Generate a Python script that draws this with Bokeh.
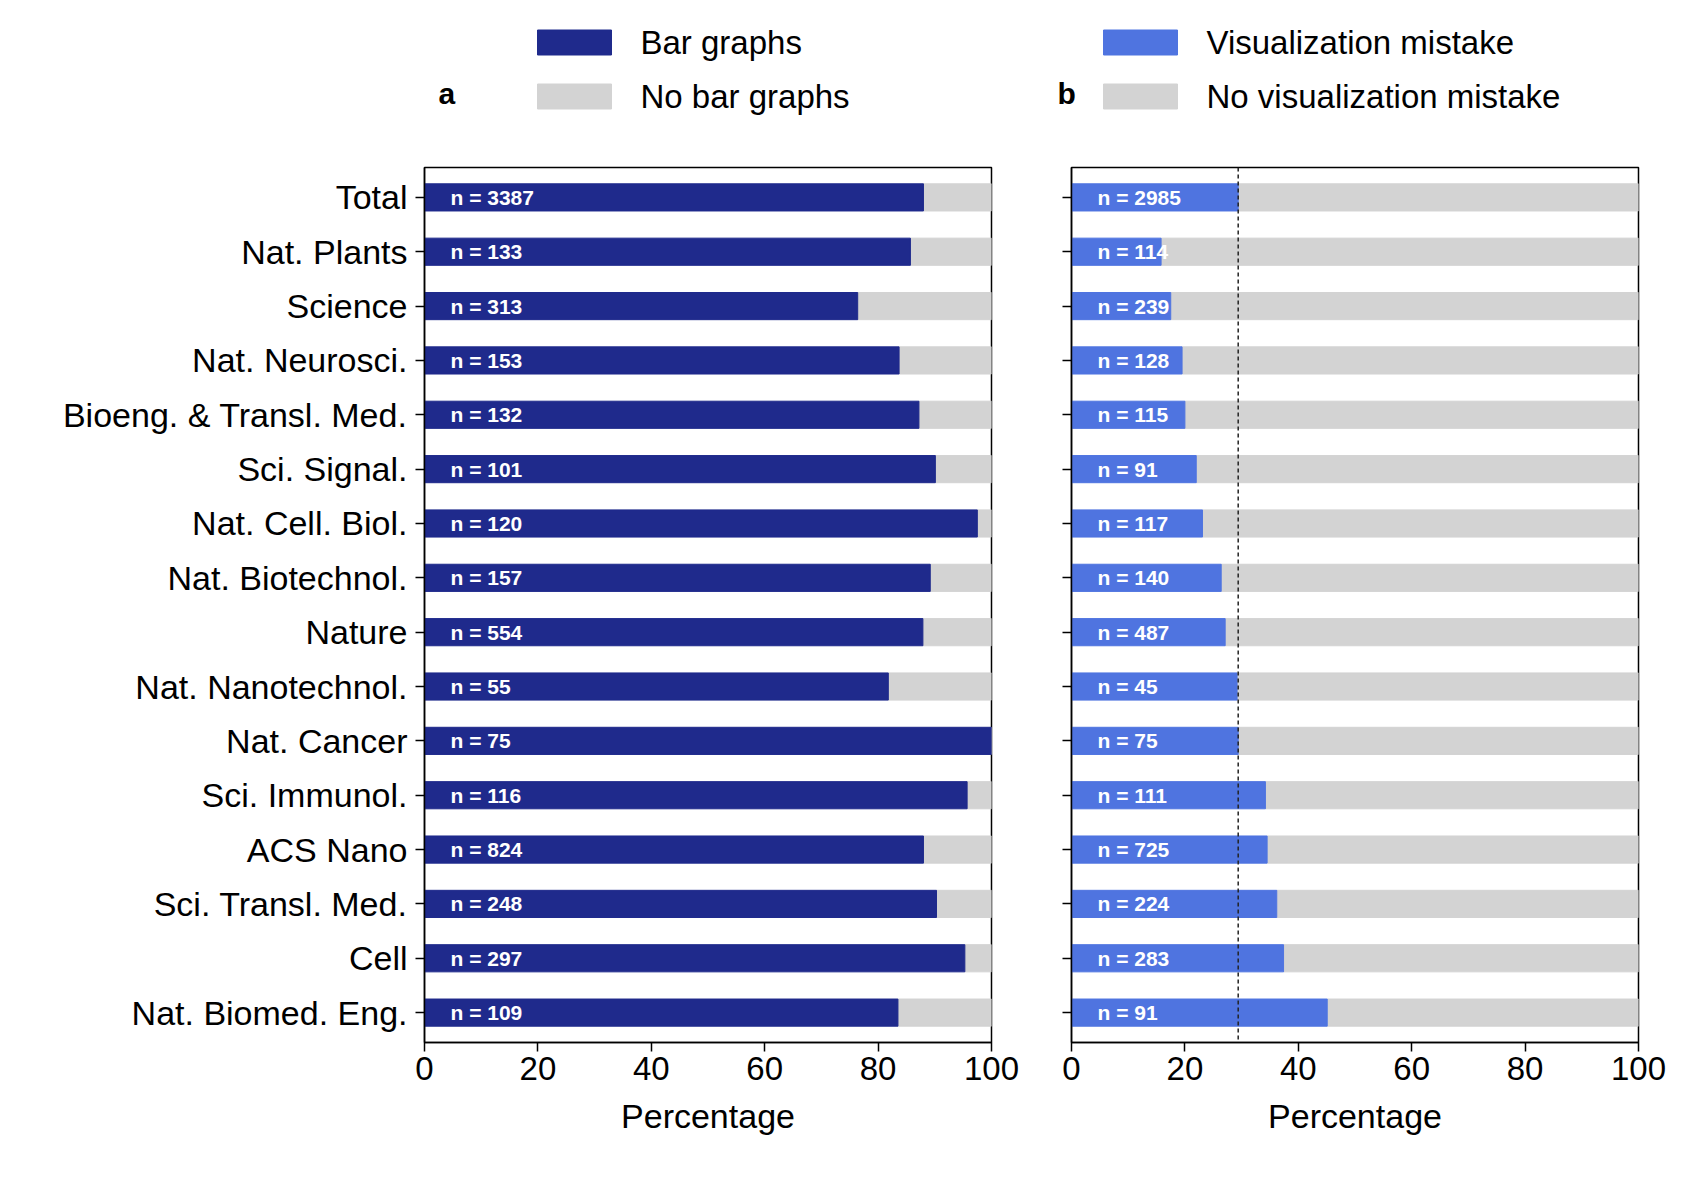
from bokeh.plotting import figure
from bokeh.layouts import row, column
from bokeh.models import Span, FixedTicker
from bokeh.core.properties import value
from bokeh.embed import file_html
from bokeh.resources import INLINE

journals = ["Total", "Nat. Plants", "Science", "Nat. Neurosci.", "Bioeng. & Transl. Med.",
            "Sci. Signal.", "Nat. Cell. Biol.", "Nat. Biotechnol.", "Nature", "Nat. Nanotechnol.",
            "Nat. Cancer", "Sci. Immunol.", "ACS Nano", "Sci. Transl. Med.", "Cell", "Nat. Biomed. Eng."]
bar_pct = [88.0, 85.7, 76.4, 83.7, 87.2, 90.1, 97.5, 89.2, 87.9, 81.8, 100.0, 95.7, 88.0, 90.3, 95.3, 83.5]
bar_n = [3387, 133, 313, 153, 132, 101, 120, 157, 554, 55, 75, 116, 824, 248, 297, 109]
mis_pct = [29.4, 15.8, 17.5, 19.5, 20.0, 22.0, 23.1, 26.4, 27.1, 29.2, 29.4, 34.2, 34.5, 36.2, 37.4, 45.1]
mis_n = [2985, 114, 239, 128, 115, 91, 117, 140, 487, 45, 75, 111, 725, 224, 283, 91]
total_mis = 29.4
legend_labels = ["Bar graphs", "No bar graphs", "Visualization mistake", "No visualization mistake"]
legend_colors = ["#1f2a8c", "#d3d3d3", "#4f74e0", "#d3d3d3"]

FONT = "Liberation Sans"
N = len(journals)
ypos = [N - 1 - i for i in range(N)]
H = 0.5

def make(pct, ns, color, left_border, width, labels):
    p = figure(width=width, height=992, output_backend="svg", toolbar_location=None,
               x_range=(0, 100), y_range=(-0.55, N - 0.45),
               min_border_left=left_border, min_border_right=width - left_border - 567,
               min_border_top=17, min_border_bottom=100)
    p.xgrid.visible = False
    p.ygrid.visible = False
    p.outline_line_color = "black"
    p.outline_line_width = 1.5
    p.hbar(y=ypos, left=pct, right=[100] * N, height=H, color="#d3d3d3")
    p.hbar(y=ypos, left=0, right=pct, height=H, color=color)
    p.text(x=[0] * N, y=ypos, text=[f"n = {n}" for n in ns], x_offset=26,
           text_baseline="middle", text_color="white", text_font=value(FONT),
           text_font_size="21px", text_font_style="bold")
    p.xaxis.ticker = FixedTicker(ticks=[0, 20, 40, 60, 80, 100])
    p.xaxis.axis_label = "Percentage"
    for ax in (p.xaxis, p.yaxis):
        ax.major_label_text_font = FONT
        ax.major_label_text_font_size = "33px"
        ax.major_label_text_color = "black"
        ax.axis_line_width = 1.5
        ax.major_tick_line_width = 1.5
        ax.major_tick_out = 9
        ax.major_tick_in = 0
        ax.minor_tick_line_color = None
    p.yaxis.major_label_text_font_size = "34px"
    p.xaxis.axis_label_text_font = FONT
    p.xaxis.axis_label_text_font_size = "34px"
    p.xaxis.axis_label_text_font_style = "normal"
    p.xaxis.axis_label_text_color = "black"
    p.xaxis.axis_label_standoff = 14
    p.yaxis.ticker = FixedTicker(ticks=ypos)
    p.yaxis.major_label_overrides = {y: (journals[i] if labels else "") for i, y in enumerate(ypos)}
    p.yaxis.major_label_standoff = 8
    return p

pa = make(bar_pct, bar_n, legend_colors[0], 424, 1042, True)
pb = make(mis_pct, mis_n, legend_colors[2], 29, 626, False)
pb.add_layout(Span(location=total_mis, dimension="height", line_dash="4 3",
                   line_color="#222222", line_width=1.5))

# header with legends and panel letters (coordinates in header pixels)
hd = figure(width=1668, height=150, output_backend="svg", toolbar_location=None,
            x_range=(0, 1668), y_range=(150, 0), min_border=0)
hd.axis.visible = False
hd.grid.visible = False
hd.outline_line_color = None
sw_left = [537, 537, 1103, 1103]
sw_y = [42, 96, 42, 96]
tx = [640, 640, 1206, 1206]
hd.rect(x=[l + 37 for l in sw_left], y=sw_y, width=74, height=25, color=legend_colors)
hd.text(x=tx, y=sw_y, text=legend_labels, text_baseline="middle",
        text_font=value(FONT), text_font_size="33px", text_color="black")
hd.text(x=[438, 1057], y=[93, 93], text=["a", "b"], text_baseline="middle",
        text_font=value(FONT), text_font_size="30px", text_font_style="bold",
        text_color="black")

layout = column(hd, row(pa, pb))
open("out.html", "w").write(file_html(layout, INLINE))
